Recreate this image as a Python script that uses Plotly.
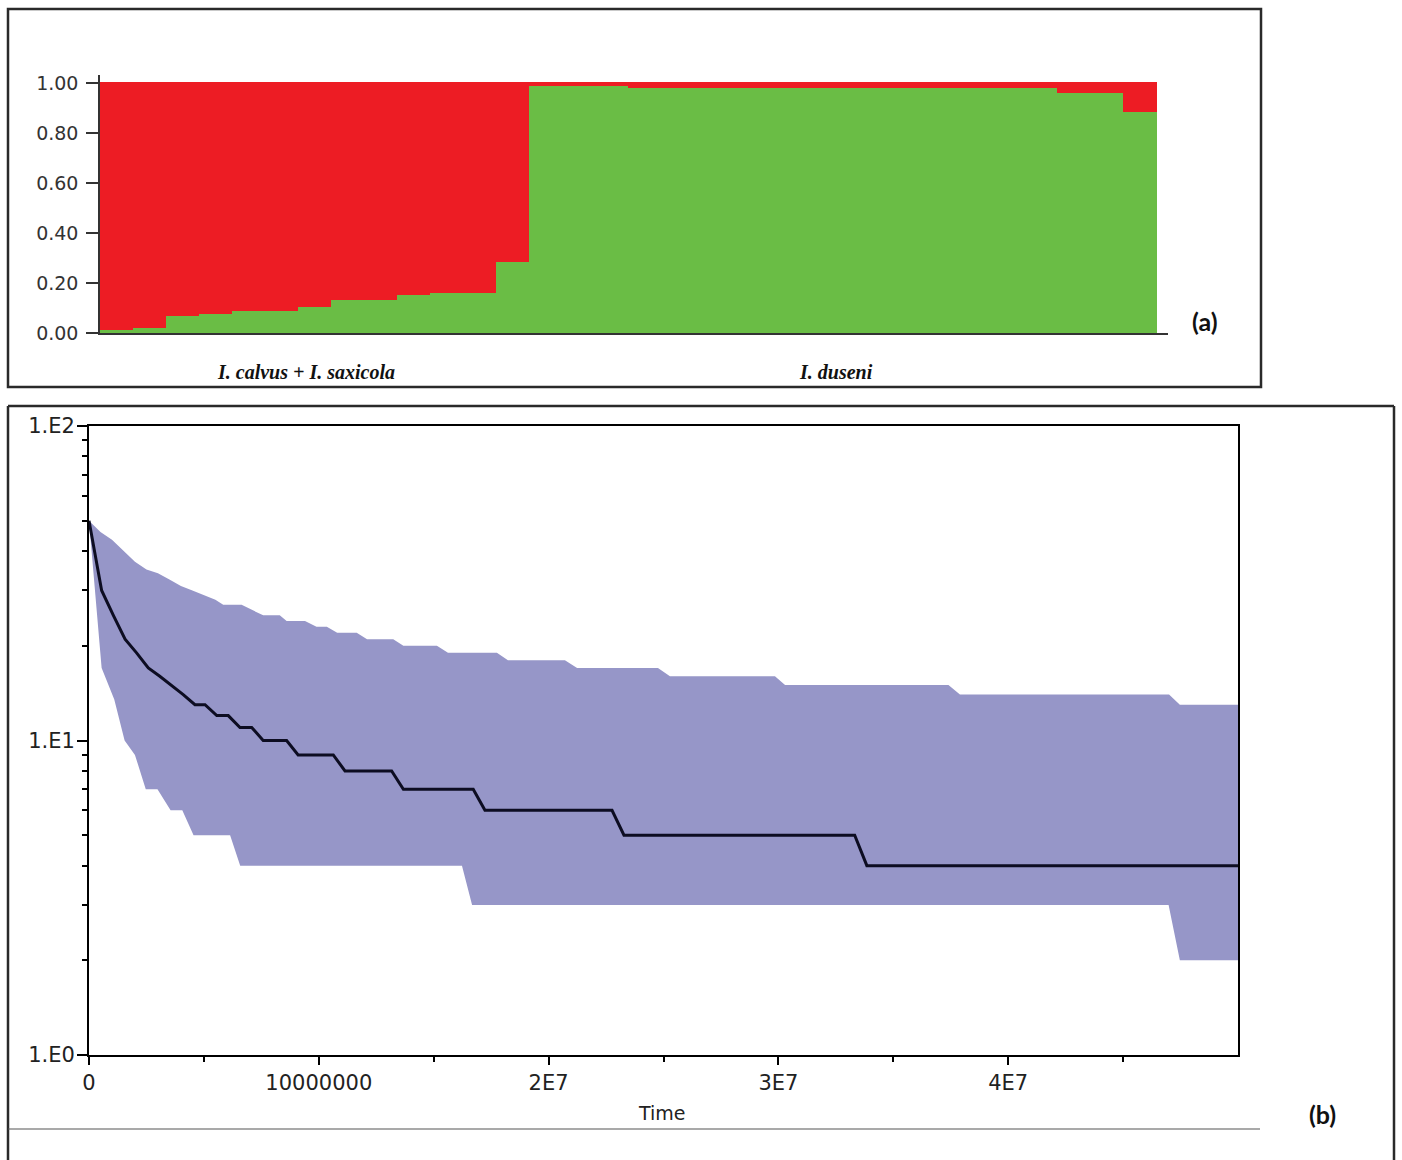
import plotly.graph_objects as go

W, H = 1402, 1160

# ---------------- Panel (a): STRUCTURE-like admixture bars ----------------
individuals = list(range(32))
cluster_green = [0.011, 0.020, 0.070, 0.077, 0.090, 0.090, 0.104, 0.133, 0.133,
                 0.153, 0.159, 0.159, 0.283,
                 0.989, 0.989, 0.989,
                 0.980, 0.980, 0.980, 0.980, 0.980, 0.980, 0.980, 0.980, 0.980,
                 0.980, 0.980, 0.980, 0.980,
                 0.960, 0.960, 0.883]
cluster_red = [round(1 - g, 3) for g in cluster_green]
a_ytick_vals = [0.0, 0.2, 0.4, 0.6, 0.8, 1.0]
a_ytick_text = ["0.00", "0.20", "0.40", "0.60", "0.80", "1.00"]
group_labels = ["I. calvus + I. saxicola", "I. duseni"]

# ---------------- Panel (b): skyline plot ----------------
median_t = [0, 0.55, 1.06, 1.57, 2.07, 2.58, 3.08, 3.58, 4.1, 4.61, 5.05, 5.56, 6.06,
            6.57, 7.08, 7.58, 8.6, 9.1, 10.63, 11.14, 13.17, 13.68, 16.72, 17.23,
            22.76, 23.28, 33.32, 33.85, 50.0]
median_v = [50, 30, 25, 21, 19, 17, 16, 15, 14, 13, 13, 12, 12, 11, 11, 10, 10, 9, 9,
            8, 8, 7, 7, 6, 6, 5, 5, 4, 4]

upper_t = [0, 0.5, 1.0, 1.5, 2.0, 2.5, 3.0, 3.5, 4.0, 4.5, 5.0, 5.5, 5.84, 6.64, 7.58,
           8.3, 8.6, 9.4, 9.9, 10.35, 10.8, 11.65, 12.1, 13.24, 13.68, 15.14, 15.62,
           17.75, 18.23, 20.71, 21.24, 24.76, 25.28, 29.85, 30.29, 37.4, 37.9, 47.0,
           47.47, 50.0]
upper_v = [50, 46, 43.5, 40, 37, 35, 34, 32.5, 31, 30, 29, 28, 27, 27, 25, 25, 24, 24,
           23, 23, 22, 22, 21, 21, 20, 20, 19, 19, 18, 18, 17, 17, 16, 16, 15, 15, 14,
           14, 13, 13]

lower_t = [0, 0.55, 1.1, 1.55, 2.0, 2.47, 2.98, 3.55, 4.06, 4.55, 6.14, 6.58, 16.23,
           16.67, 46.98, 47.47, 50.0]
lower_v = [50, 17, 13.5, 10, 9, 7, 7, 6, 6, 5, 5, 4, 4, 3, 3, 2, 2]

b_xtick_vals = [0, 1e7, 2e7, 3e7, 4e7]
b_xtick_text = ["0", "10000000", "2E7", "3E7", "4E7"]
b_xminor_vals = [5e6, 1.5e7, 2.5e7, 3.5e7, 4.5e7]
b_ytick_vals = [1, 10, 100]
b_ytick_text = ["1.E0", "1.E1", "1.E2"]
b_yminor_vals = [2, 3, 4, 5, 6, 7, 8, 9, 20, 30, 40, 50, 60, 70, 80, 90]

T_SCALE = 1e6  # times above are in millions

RED = "rgb(237,28,36)"
GREEN = "rgb(106,189,69)"
BAND = "rgb(150,150,200)"
LINE = "#0d0d22"


def px(x):
    return x / W


def py(y):
    return 1 - y / H


fig = go.Figure()

fig.add_trace(go.Bar(x=individuals, y=cluster_green, marker=dict(color=GREEN, line=dict(color=GREEN, width=1)),
                     xaxis="x", yaxis="y", showlegend=False, hoverinfo="skip"))
fig.add_trace(go.Bar(x=individuals, y=cluster_red, marker=dict(color=RED, line=dict(color=RED, width=1)),
                     xaxis="x", yaxis="y", showlegend=False, hoverinfo="skip"))

band_x = [t * T_SCALE for t in upper_t] + [t * T_SCALE for t in lower_t[::-1]]
band_y = upper_v + lower_v[::-1]
fig.add_trace(go.Scatter(x=band_x, y=band_y, mode="lines", fill="toself", fillcolor=BAND,
                         line=dict(width=0, color=BAND), xaxis="x2", yaxis="y2",
                         showlegend=False, hoverinfo="skip"))
fig.add_trace(go.Scatter(x=[t * T_SCALE for t in median_t], y=median_v, mode="lines",
                         line=dict(color=LINE, width=3), xaxis="x2", yaxis="y2",
                         showlegend=False))

tick_font_a = dict(family="DejaVu Sans", size=19, color="#333333")
tick_font_b = dict(family="DejaVu Sans", size=21, color="#222222")

fig.update_layout(
    width=W, height=H,
    margin=dict(l=0, r=0, t=0, b=0, pad=0, autoexpand=False),
    showlegend=False,
    paper_bgcolor="white", plot_bgcolor="white",
    barmode="stack", bargap=0,
    xaxis=dict(domain=[px(100), px(1168)], range=[-0.5, 31.833], showline=True,
               linecolor="#333333", linewidth=2, showticklabels=False, ticks="",
               showgrid=False, zeroline=False, fixedrange=True, automargin=False),
    yaxis=dict(domain=[py(333), py(75)], range=[0, 1.032], showline=True,
               linecolor="#333333", linewidth=1.5, ticks="outside", ticklen=12,
               tickwidth=1.5, tickcolor="#333333", tickvals=a_ytick_vals,
               ticktext=a_ytick_text, tickfont=tick_font_a, showgrid=False,
               zeroline=False, anchor="x", automargin=False, ticklabelstandoff=4),
    xaxis2=dict(domain=[px(89), px(1238)], range=[0, 5e7], showline=True, mirror=True,
                linecolor="black", linewidth=2, ticks="outside", ticklen=8, tickwidth=2,
                tickcolor="black", tickvals=b_xtick_vals, ticktext=b_xtick_text,
                tickfont=tick_font_b, showgrid=False, zeroline=False, anchor="y2",
                automargin=False,
                minor=dict(tickvals=b_xminor_vals, ticks="outside", ticklen=5,
                           tickwidth=2, tickcolor="black", showgrid=False)),
    yaxis2=dict(domain=[py(1055), py(426)], type="log", range=[0, 2], showline=True,
                mirror=True, linecolor="black", linewidth=2, ticks="outside", ticklen=10,
                tickwidth=2, tickcolor="black", tickvals=b_ytick_vals,
                ticktext=b_ytick_text, tickfont=tick_font_b, showgrid=False,
                zeroline=False, anchor="x2", automargin=False, ticklabelstandoff=-2,
                minor=dict(tickvals=b_yminor_vals, ticks="outside", ticklen=5,
                           tickwidth=2, tickcolor="black", showgrid=False)),
)

annotations = [
    dict(text="<b><i>" + group_labels[0] + "</i></b>", x=px(306), y=py(372),
         font=dict(family="Liberation Serif", size=20, color="#111111")),
    dict(text="<b><i>" + group_labels[1] + "</i></b>", x=px(836), y=py(372),
         font=dict(family="Liberation Serif", size=20, color="#111111")),
    dict(text="<b>(a)</b>", x=px(1205), y=py(321),
         font=dict(family="Lato", size=25, color="#111111")),
    dict(text="<b>(b)</b>", x=px(1322), y=py(1114),
         font=dict(family="Lato", size=25, color="#111111")),
    dict(text="Time", x=px(662), y=py(1113),
         font=dict(family="DejaVu Sans", size=19, color="#222222")),
]
for a in annotations:
    a.update(xref="paper", yref="paper", showarrow=False, xanchor="center", yanchor="middle")
fig.update_layout(annotations=annotations)

shapes = [
    # frame of panel (a)
    dict(type="rect", x0=px(8), x1=px(1261), y0=py(387), y1=py(9),
         line=dict(color="#2a2a2a", width=2.5)),
    # frame of panel (b)
    dict(type="line", x0=px(8), x1=px(8), y0=py(406), y1=py(1160),
         line=dict(color="#2a2a2a", width=2.5)),
    dict(type="line", x0=px(8), x1=px(1394), y0=py(406), y1=py(406),
         line=dict(color="#2a2a2a", width=2.5)),
    dict(type="line", x0=px(1394), x1=px(1394), y0=py(406), y1=py(1160),
         line=dict(color="#2a2a2a", width=2.5)),
    dict(type="line", x0=px(8), x1=px(1260), y0=py(1129), y1=py(1129),
         line=dict(color="#555555", width=1.2)),
]
for s in shapes:
    s.update(xref="paper", yref="paper", layer="above")
fig.update_layout(shapes=shapes)

fig.write_html(
    "out.html",
    config={"displayModeBar": False},
    post_script="document.body.style.margin='0px';document.body.style.overflow='hidden';",
)
